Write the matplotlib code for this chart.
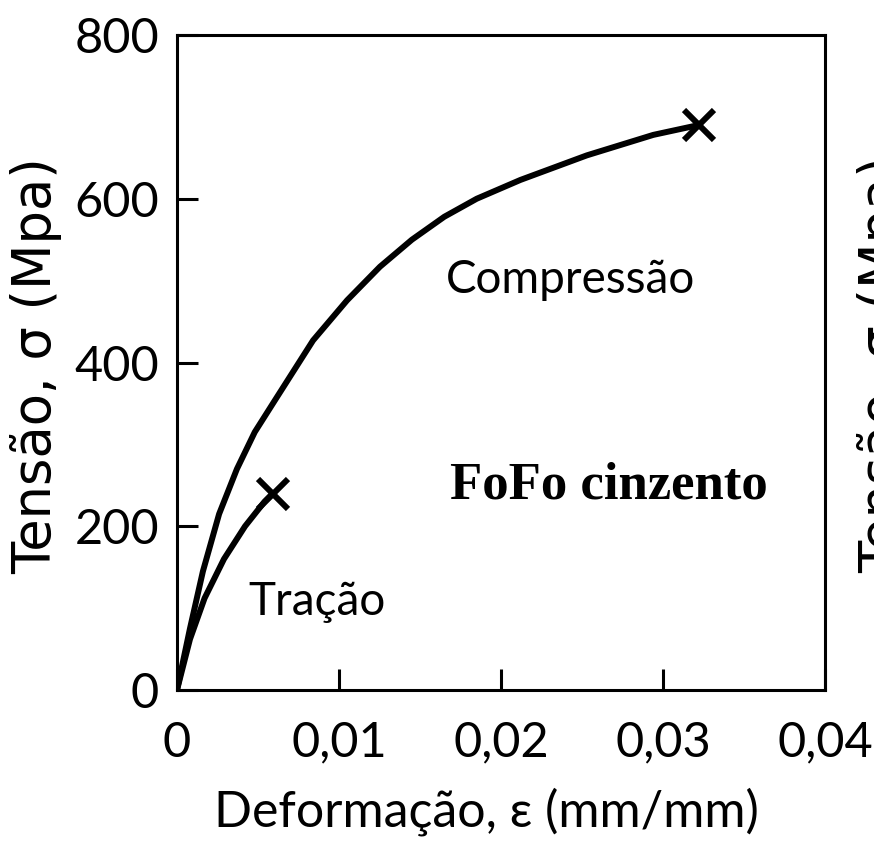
import matplotlib.pyplot as plt

# data
eps_comp = [0, 0.0008, 0.0016, 0.0026, 0.0037, 0.0048, 0.00605, 0.0084,
            0.0105, 0.01253, 0.0145, 0.0165, 0.0185, 0.0212, 0.0253,
            0.0294, 0.0322]
sig_comp = [0, 75, 145, 215, 270, 315, 354, 427, 476, 517, 550, 578, 600,
            623, 653, 678, 690]

eps_trac = [0, 0.0008, 0.0017, 0.0029, 0.0042, 0.0054, 0.0059]
sig_trac = [0, 62, 112, 160, 200, 230, 240]

x_ticks = [0, 0.01, 0.02, 0.03, 0.04]
x_ticklabels = ['0', '0,01', '0,02', '0,03', '0,04']
y_ticks = [0, 200, 400, 600, 800]

plt.rcParams['font.family'] = ['Lato', 'DejaVu Sans']

fig = plt.figure(figsize=(8.74, 8.55), dpi=100)
ax = fig.add_axes([177/874, 1 - 690/855, (825 - 177)/874, (690 - 35)/855])

ax.plot(eps_comp, sig_comp, c='k', lw=4.3, solid_capstyle='round',
        solid_joinstyle='round')
ax.plot(eps_trac, sig_trac, c='k', lw=4.3, solid_capstyle='round',
        solid_joinstyle='round')
ax.plot(eps_comp[-1], sig_comp[-1], 'x', c='k', ms=22, mew=4.3)
ax.plot(eps_trac[-1], sig_trac[-1], 'x', c='k', ms=22, mew=4.3)

ax.set_xlim(0, 0.04)
ax.set_ylim(0, 800)
ax.set_xticks(x_ticks)
ax.set_xticklabels(x_ticklabels)
ax.set_yticks(y_ticks)
ax.tick_params(direction='in', length=15, width=2.2, labelsize=35)
ax.tick_params(axis='x', pad=22)
ax.tick_params(axis='y', pad=13)
for s in ax.spines.values():
    s.set_linewidth(2.2)

ax.set_xlabel('Deformação, ε (mm/mm)', fontsize=36)
ax.xaxis.set_label_coords(0.478, -0.148)
ax.set_ylabel('Tensão, σ (Mpa)', fontsize=38, family='DejaVu Sans')
ax.yaxis.set_label_coords(-0.178, 0.495)

ax.text(0.0166, 485, 'Compressão', fontsize=33)
ax.text(0.0044, 92, 'Tração', fontsize=33)
ax.text(0.01685, 234, 'FoFo cinzento', fontsize=38, fontweight='bold',
        family='Liberation Serif', va='baseline')

# ylabel of the neighbouring panel, cut at the right edge
fig.text(857/874, 1 - 365/855, 'Tensão, σ (Mpa)', fontsize=38,
         family='DejaVu Sans', rotation=90, ha='left', va='center')

fig.savefig('out.png', dpi=100)
